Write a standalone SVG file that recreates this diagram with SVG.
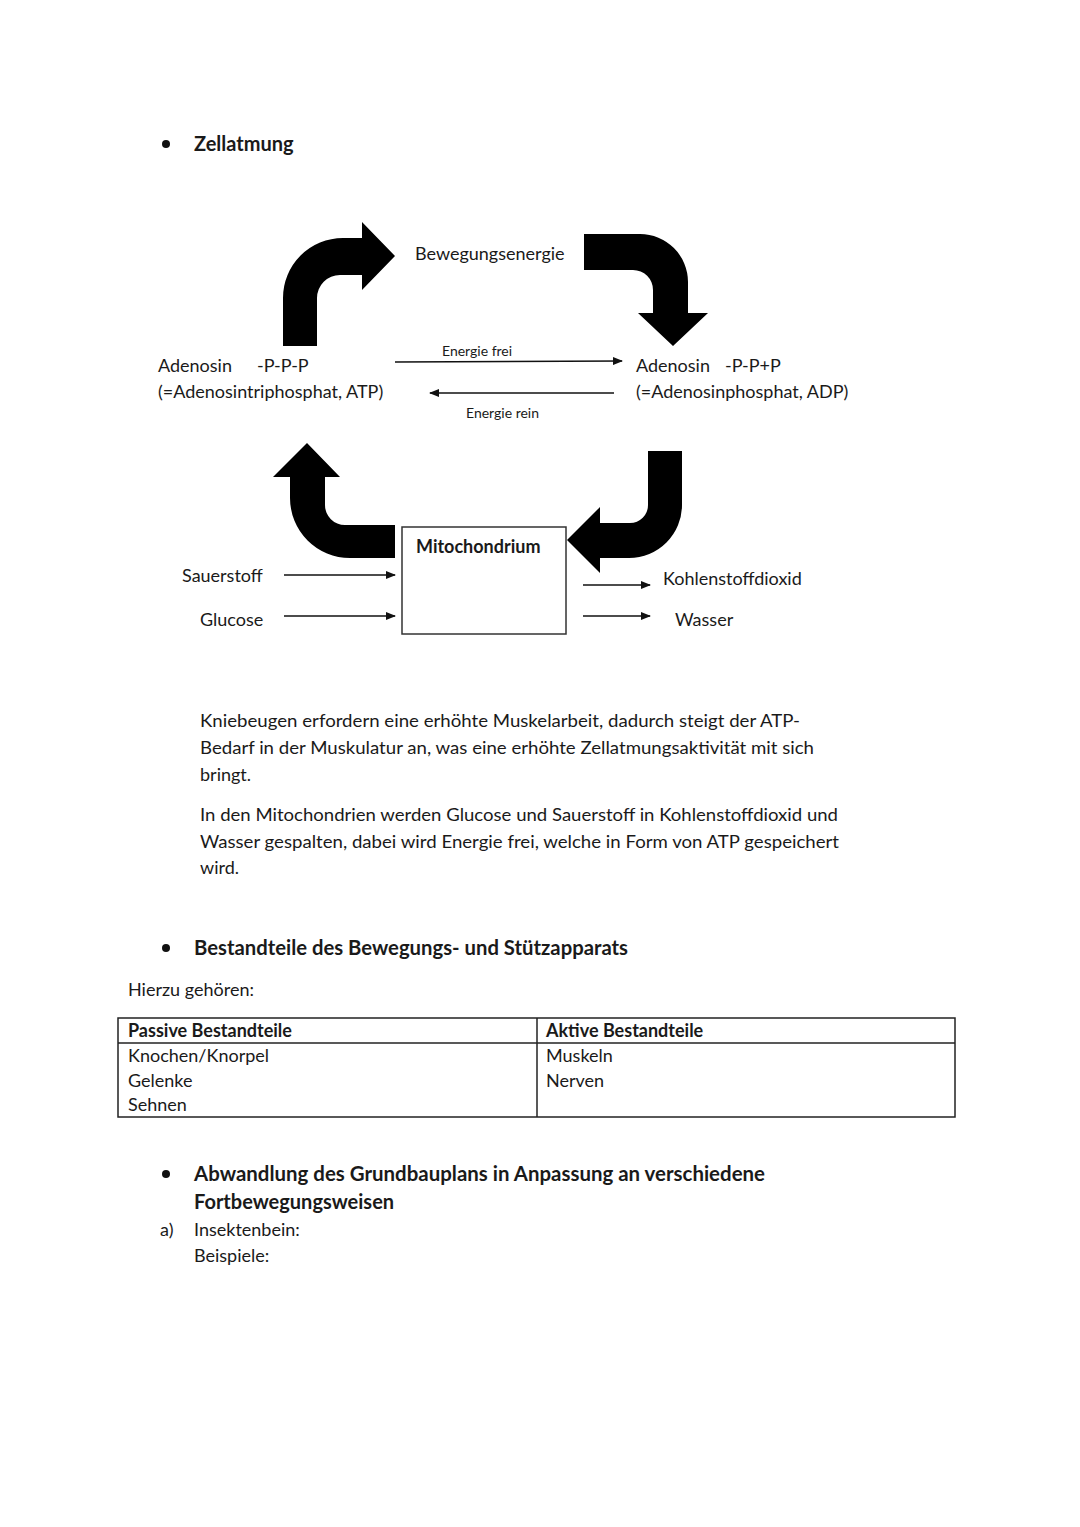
<svg xmlns="http://www.w3.org/2000/svg" width="1080" height="1527" viewBox="0 0 1080 1527">
<defs>
<style>
text{font-family:Lato,"Open Sans","Liberation Sans",sans-serif;fill:#1a1a1a;font-size:18px}
.b{font-weight:bold}
.s{font-size:14px}
.big{font-size:20px}
.ln{stroke:#111;stroke-width:1.5;fill:none}
.fat{fill:#000}
.box{fill:#fff;stroke:#333;stroke-width:1.5}
.tb{fill:none;stroke:#222;stroke-width:1.5}
</style>
<marker id="ah" markerWidth="10" markerHeight="8" refX="9" refY="4" orient="auto" markerUnits="userSpaceOnUse">
<path d="M0,0 L10,4 L0,8 Z" fill="#111"/>
</marker>
</defs>
<rect width="1080" height="1527" fill="#fff"/>

<g id="heading1">
<circle cx="166" cy="144" r="4" fill="#111"/>
<text x="194" y="151" class="b big">Zellatmung</text>
</g>

<g id="connectors">
<path class="fat" d="M283,346 L283,298 A60,60 0 0 1 343,238 L362,238 L362,222 L395,256 L362,290 L362,275 L340,275 A23,23 0 0 0 317,298 L317,346 Z"/>
<path class="fat" d="M584,234 L640,234 A48,48 0 0 1 688,282 L688,313 L708,313 L673,346 L638,313 L653,313 L653,290 A20,20 0 0 0 633,270 L584,270 Z"/>
<path class="fat" d="M307,443 L340,477 L325,477 L325,505 A20,20 0 0 0 345,525 L395,525 L395,558 L350,558 A60,60 0 0 1 290,498 L290,477 L273,477 Z"/>
<path class="fat" d="M648,451 L682,451 L682,505 A53,53 0 0 1 629,558 L600,558 L600,573 L567,540 L600,507 L600,523 L630,523 A18,18 0 0 0 648,505 Z"/>
<line class="ln" x1="395" y1="362" x2="622" y2="361" marker-end="url(#ah)"/>
<line class="ln" x1="614" y1="393" x2="430" y2="393" marker-end="url(#ah)"/>
<line class="ln" x1="284" y1="575" x2="395" y2="575" marker-end="url(#ah)"/>
<line class="ln" x1="284" y1="616" x2="395" y2="616" marker-end="url(#ah)"/>
<line class="ln" x1="583" y1="585" x2="650" y2="585" marker-end="url(#ah)"/>
<line class="ln" x1="583" y1="616" x2="650" y2="616" marker-end="url(#ah)"/>
</g>

<g id="bewegungsenergie"><text x="415" y="260">Bewegungsenergie</text></g>
<g id="atp">
<text x="158" y="372">Adenosin</text><text x="257" y="372">-P-P-P</text>
<text x="158" y="398">(=Adenosintriphosphat, ATP)</text>
</g>
<g id="adp">
<text x="636" y="372">Adenosin</text><text x="725" y="372">-P-P+P</text>
<text x="636" y="398">(=Adenosinphosphat, ADP)</text>
</g>
<g id="energie-frei"><text x="442" y="356" class="s">Energie frei</text></g>
<g id="energie-rein"><text x="466" y="418" class="s">Energie rein</text></g>

<g id="mitochondrium">
<rect class="box" x="402" y="527" width="164" height="107"/>
<text x="416" y="553" class="b">Mitochondrium</text>
</g>
<g id="sauerstoff"><text x="182" y="582">Sauerstoff</text></g>
<g id="glucose"><text x="200" y="626">Glucose</text></g>
<g id="kohlenstoffdioxid"><text x="663" y="585">Kohlenstoffdioxid</text></g>
<g id="wasser"><text x="675" y="626">Wasser</text></g>

<g id="paragraph1">
<text x="200" y="727" textLength="600" lengthAdjust="spacingAndGlyphs">Kniebeugen erfordern eine erhöhte Muskelarbeit, dadurch steigt der ATP-</text>
<text x="200" y="754" textLength="614" lengthAdjust="spacingAndGlyphs">Bedarf in der Muskulatur an, was eine erhöhte Zellatmungsaktivität mit sich</text>
<text x="200" y="781">bringt.</text>
</g>
<g id="paragraph2">
<text x="200" y="821" textLength="638" lengthAdjust="spacingAndGlyphs">In den Mitochondrien werden Glucose und Sauerstoff in Kohlenstoffdioxid und</text>
<text x="200" y="848" textLength="639" lengthAdjust="spacingAndGlyphs">Wasser gespalten, dabei wird Energie frei, welche in Form von ATP gespeichert</text>
<text x="200" y="874">wird.</text>
</g>

<g id="heading2">
<circle cx="166" cy="948" r="4" fill="#111"/>
<text x="194" y="955" class="b big" textLength="434" lengthAdjust="spacingAndGlyphs">Bestandteile des Bewegungs- und Stützapparats</text>
</g>
<g id="hierzu"><text x="128" y="996">Hierzu gehören:</text></g>

<g id="table">
<rect class="tb" x="118" y="1018" width="837" height="99"/>
<line class="tb" x1="118" y1="1043" x2="955" y2="1043"/>
<line class="tb" x1="537" y1="1018" x2="537" y2="1117"/>
<text x="128" y="1037" class="b">Passive Bestandteile</text>
<text x="128" y="1062">Knochen/Knorpel</text>
<text x="128" y="1087">Gelenke</text>
<text x="128" y="1111">Sehnen</text>
<text x="546" y="1037" class="b">Aktive Bestandteile</text>
<text x="546" y="1062">Muskeln</text>
<text x="546" y="1087">Nerven</text>
</g>

<g id="heading3">
<circle cx="166" cy="1174" r="4" fill="#111"/>
<text x="194" y="1181" class="b big" textLength="571" lengthAdjust="spacingAndGlyphs">Abwandlung des Grundbauplans in Anpassung an verschiedene</text>
<text x="194" y="1209" class="b big">Fortbewegungsweisen</text>
<text x="160" y="1236">a)</text>
<text x="194" y="1236">Insektenbein:</text>
<text x="194" y="1262">Beispiele:</text>
</g>
</svg>
